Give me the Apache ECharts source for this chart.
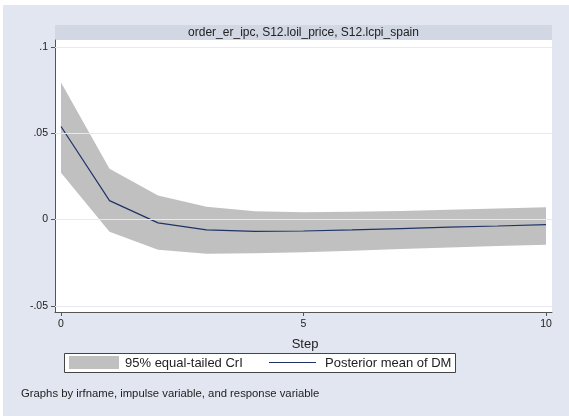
<!DOCTYPE html>
<html>
<head>
<meta charset="utf-8">
<script src="https://cdn.jsdelivr.net/npm/echarts@6/dist/echarts.min.js"></script>
<style>
html,body{margin:0;padding:0;background:#fff;}
#chart{width:569px;height:416px;}
</style>
</head>
<body>
<div id="chart"></div>
<script>
var steps = [0, 1, 2, 3, 4, 5, 6, 7, 8, 9, 10];
var upperCI = [0.0794, 0.0295, 0.0139, 0.0075, 0.0048, 0.0042, 0.0045, 0.0050, 0.0057, 0.0064, 0.0071];
var lowerCI = [0.0272, -0.0070, -0.0174, -0.0197, -0.0195, -0.0189, -0.0180, -0.0170, -0.0162, -0.0153, -0.0145];
var posteriorMean = [0.0539, 0.0110, -0.0019, -0.0060, -0.0068, -0.0066, -0.0060, -0.0052, -0.0044, -0.0037, -0.0029];
var yTicks = [-0.05, 0, 0.05, 0.1];
var yTickLabels = ['-.05', '0', '.05', '.1'];
var xTicks = [0, 5, 10];
var xTickLabels = ['0', '5', '10'];
var panelTitle = 'order_er_ipc, S12.loil_price, S12.lcpi_spain';
var xTitle = 'Step';
var legendBand = '95% equal-tailed CrI';
var legendMean = 'Posterior mean of DM';
var footNote = 'Graphs by irfname, impulse variable, and response variable';

var FONT = '"Liberation Sans", Arial, sans-serif';
var chart = echarts.init(document.getElementById('chart'));

var bandData = steps.map(function (s, i) { return [s, lowerCI[i], upperCI[i]]; });
var meanData = steps.map(function (s, i) { return [s, posteriorMean[i]]; });

function yLabel(v) {
  for (var i = 0; i < yTicks.length; i++) if (Math.abs(yTicks[i] - v) < 1e-9) return yTickLabels[i];
  return '';
}
function xLabel(v) {
  for (var i = 0; i < xTicks.length; i++) if (Math.abs(xTicks[i] - v) < 1e-9) return xTickLabels[i];
  return '';
}

var option = {
  animation: false,
  backgroundColor: '#ffffff',
  graphic: [
    { type: 'rect', z: -10, shape: { x: 3, y: 5, width: 566, height: 411 }, style: { fill: '#e1e6f0' } },
    { type: 'rect', z: -9, shape: { x: 55, y: 25, width: 497, height: 15 }, style: { fill: '#d1d7e3' } },
    { type: 'rect', z: -9, shape: { x: 55, y: 40, width: 497, height: 272 }, style: { fill: '#ffffff' } },
    { type: 'text', z: 10, x: 303.5, y: 32.5, style: { text: panelTitle, font: '12px ' + FONT, fill: '#222', align: 'center', verticalAlign: 'middle' } },
    { type: 'text', z: 10, x: 305, y: 344, style: { text: xTitle, font: '13px ' + FONT, fill: '#222', align: 'center', verticalAlign: 'middle' } },
    { type: 'rect', z: 10, shape: { x: 64.5, y: 353.5, width: 391, height: 19 }, style: { fill: '#ffffff', stroke: '#444', lineWidth: 1 } },
    { type: 'rect', z: 11, shape: { x: 69, y: 356, width: 50, height: 13 }, style: { fill: '#c0c0c0' } },
    { type: 'text', z: 11, x: 125, y: 363, style: { text: legendBand, font: '13px ' + FONT, fill: '#222', verticalAlign: 'middle' } },
    { type: 'line', z: 11, shape: { x1: 269, y1: 362.5, x2: 316, y2: 362.5 }, style: { stroke: '#1f3366', lineWidth: 1.2 } },
    { type: 'text', z: 11, x: 325, y: 363, style: { text: legendMean, font: '13px ' + FONT, fill: '#222', verticalAlign: 'middle' } },
    { type: 'text', z: 10, x: 21, y: 394, style: { text: footNote, font: '11.3px ' + FONT, fill: '#222', verticalAlign: 'middle' } }
  ],
  grid: { left: 55, right: 17, top: 40, bottom: 104, show: false },
  xAxis: {
    type: 'value',
    min: -0.124, max: 10.124,
    axisLine: { show: true, onZero: false, lineStyle: { color: '#555', width: 1 } },
    axisTick: { show: true, length: 4, customValues: xTicks, lineStyle: { color: '#555' } },
    axisLabel: { customValues: xTicks, formatter: xLabel, color: '#222', fontSize: 10.5, fontFamily: FONT, margin: 7 },
    splitLine: { show: false }
  },
  yAxis: {
    type: 'value',
    min: -0.0535, max: 0.104,
    axisLine: { show: true, onZero: false, lineStyle: { color: '#555', width: 1 } },
    axisTick: { show: true, length: 4, customValues: yTicks, lineStyle: { color: '#555' } },
    axisLabel: { customValues: yTicks, formatter: yLabel, color: '#222', fontSize: 10.5, fontFamily: FONT, margin: 7 },
    splitLine: { show: false }
  },
  series: [
    {
      type: 'line', name: 'grid', data: [], z: 1, silent: true,
      markLine: {
        silent: true, symbol: 'none', label: { show: false },
        lineStyle: { color: '#e6e9f1', width: 1, type: 'solid' },
        data: yTicks.map(function (v) { return { yAxis: v }; })
      }
    },
    {
      type: 'custom', name: legendBand, z: 2, silent: true,
      data: bandData,
      encode: { x: 0, y: [1, 2] },
      renderItem: function (params, api) {
        if (params.dataIndex !== 0) return null;
        var pts = [];
        for (var i = 0; i < bandData.length; i++) pts.push(api.coord([bandData[i][0], bandData[i][2]]));
        for (var j = bandData.length - 1; j >= 0; j--) pts.push(api.coord([bandData[j][0], bandData[j][1]]));
        return { type: 'polygon', shape: { points: pts }, style: { fill: '#c0c0c0' } };
      }
    },
    {
      type: 'line', name: legendMean, z: 3, data: meanData,
      symbol: 'none', lineStyle: { color: '#1f3366', width: 1.2 }
    }
  ]
};
chart.setOption(option);
</script>
</body>
</html>
